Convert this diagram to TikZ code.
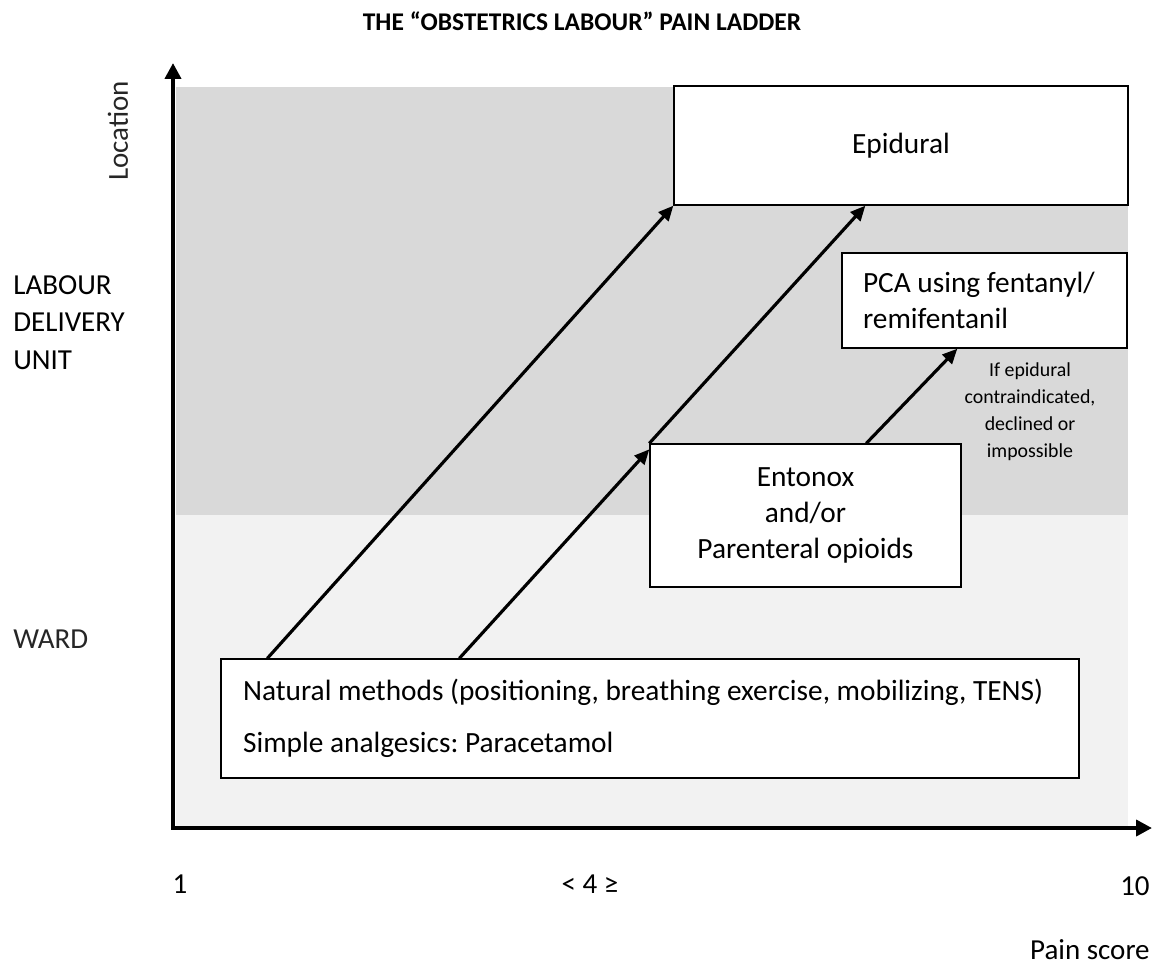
\documentclass[tikz,border=0pt]{standalone}
\usepackage{fontspec}
\setmainfont{Carlito}
\usetikzlibrary{positioning, arrows.meta, calc}
\definecolor{ldugray}{HTML}{D9D9D9}
\definecolor{wardgray}{HTML}{F2F2F2}
\frenchspacing

\begin{document}
\begin{tikzpicture}[
    x=0.02cm, y=-0.02cm,
    box/.style={
        rectangle,
        draw=black,
        line width=0.8pt,
        fill=white,
        font=\fontsize{16.7}{20.5}\selectfont
    },
    axis/.style={{Triangle[length=9pt, width=9pt]}-{Triangle[length=9pt, width=9pt]}, line width=2.2pt},
    arrow/.style={-{Triangle[length=8.5pt, width=7.5pt]}, line width=1.8pt},
    label/.style={font=\fontsize{16.5}{21.3}\selectfont, inner sep=0pt},
    note/.style={font=\fontsize{11.3}{15.3}\selectfont, align=center, inner sep=0pt},
    title/.style={font=\fontsize{14.5}{18}\selectfont\bfseries}
]
\useasboundingbox (0,0) rectangle (1157,968);

% Title
\node[title] (title) at (582,21) {THE “OBSTETRICS LABOUR” PAIN LADDER};

% === Background bands ===
\fill[ldugray] (176,87) rectangle (1128,515);
\fill[wardgray] (176,515) rectangle (1128,826);

% === Axes ===
\coordinate (origin) at (173,828);
\coordinate (ytip) at (173,63);
\coordinate (xtip) at (1152,828);
\draw[axis] (ytip) -- (origin) -- (xtip);

% Axis labels
\node[label, rotate=90, text=black!85] (location) at (118,131) {Location};
\node[label, align=left, anchor=north west] (ldu) at (13,275) {LABOUR\\DELIVERY\\UNIT};
\node[label, anchor=base west, text=black!85] (ward) at (13,648) {WARD};
\node[label] (score1) at (180,884) {1};
\node[label] (score4) at (590,884) {< 4 ≥};
\node[label, anchor=east] (score10) at (1150,886) {10};
\node[label, anchor=east] (painscore) at (1150,950) {Pain score};

% === Steps of the ladder ===
\node[box, minimum width=9.08cm, minimum height=2.38cm] (epidural) at (901,145.5) {Epidural};
\node[box, text width=4.86cm, inner xsep=0.42cm, minimum height=1.9cm, align=flush left] (pca) at (984.5,300.5) {PCA using fentanyl/\\remifentanil};
\node[box, minimum width=6.22cm, minimum height=2.86cm, align=center] (entonox) at (805.5,515.5) {Entonox\\and/or\\Parenteral opioids};
\node[box, text width=16.28cm, inner xsep=0.44cm, minimum height=2.38cm, align=flush left] (natural) at (650,718.5) {Natural methods (positioning, breathing exercise, mobilizing, TENS)\\[9pt]Simple analgesics: Paracetamol};

% Side note
\node[note] (caveat) at (1030,412) {If epidural\\contraindicated,\\declined or\\impossible};

% Arrows
\draw[arrow] ($(natural.north west)+(47,0)$) -- (epidural.south west);
\draw[arrow] ($(natural.north west)+(239,0)$) -- ($(entonox.north west)+(0,6)$);
\draw[arrow] (entonox.north west) -- ($(epidural.south west)+(192,0)$);
\draw[arrow] ($(entonox.north west)+(217,0)$) -- ($(pca.south west)+(116,0)$);

\end{tikzpicture}
\end{document}
